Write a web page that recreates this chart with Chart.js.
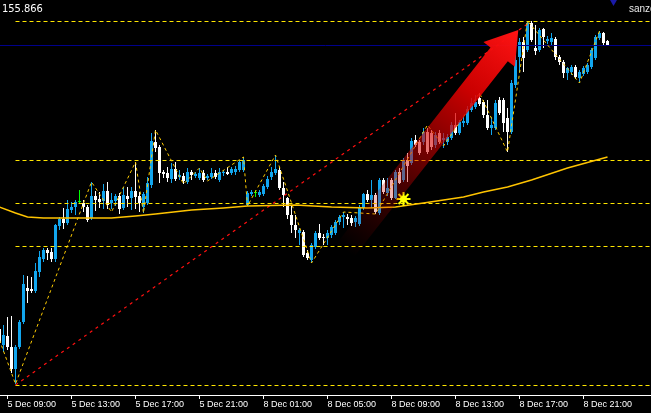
<!DOCTYPE html>
<html>
<head>
<meta charset="utf-8">
<script src="https://cdn.jsdelivr.net/npm/chart.js@4.4.1/dist/chart.umd.min.js"></script>
<style>
  html, body { margin: 0; padding: 0; background: #000; overflow: hidden; }
  #wrap { position: relative; width: 651px; height: 413px; overflow: hidden; background: #000; }
  canvas { display: block; }
  .lbl { position: absolute; white-space: nowrap; }
  #price { left: 2px; top: 3px; color: #fff; font: 11px/11px 'Liberation Sans Narrow', 'DejaVu Sans Condensed', sans-serif; }
  #name { left: 629px; top: 4px; color: #e8e8e8; font: 10px/10px 'Liberation Sans', Arial, sans-serif; }
</style>
</head>
<body>
<div id="wrap">
  <canvas id="chart" width="651" height="413"></canvas>
  <div class="lbl" id="price">155.866</div>
  <div class="lbl" id="name">sanzo</div>
</div>
<script>
// M15 bars, index 0 = 5 Dec 09:00 (weekend gap after index 59)
const firstIndex = -2;

const opens = [
  152.71,152.55,152.64,152.53,152.31,152.53,152.78,153.12,153.11,153.09,
  153.28,153.41,153.50,153.48,153.41,153.74,153.81,153.77,153.90,153.93,
  153.98,153.97,153.93,153.82,154.04,154.01,153.99,154.09,153.97,153.99,
  154.04,153.92,154.04,154.02,154.09,154.04,153.93,153.97,154.15,154.58,
  154.53,154.28,154.27,154.21,154.31,154.23,154.24,154.18,154.28,154.24,
  154.22,154.27,154.22,154.23,154.27,154.20,154.27,154.28,154.27,154.28,
  154.30,154.30,153.95,154.06,154.07,154.05,154.06,154.13,154.23,154.27,
  154.30,154.12,154.02,153.85,153.75,153.67,153.68,153.47,153.40,153.53,
  153.67,153.63,153.62,153.65,153.67,153.78,153.83,153.83,153.82,153.78,
  153.76,153.92,154.06,154.00,154.05,153.87,154.20,154.07,154.20,154.02,
  154.28,154.20,154.40,154.37,154.60,154.58,154.58,154.68,154.67,154.55,
  154.67,154.60,154.58,154.62,154.75,154.67,154.77,154.77,154.90,154.93,
  155.02,154.98,154.85,154.72,154.72,155.00,155.00,154.82,154.68,155.15,
  155.43,155.58,155.50,155.77,155.52,155.50,155.71,155.59,155.58,155.61,
  155.43,155.38,155.27,155.28,155.33,155.22,155.26,155.28,155.33,155.42,
  155.62,155.67,155.59
];
const closes = [
  152.57,152.65,152.53,152.31,152.53,152.78,153.16,153.09,153.09,153.29,
  153.43,153.50,153.47,153.41,153.75,153.81,153.77,153.91,153.93,153.98,
  153.98,153.93,153.80,154.04,154.00,153.98,154.09,153.95,154.00,154.04,
  153.91,154.05,154.01,154.09,154.03,153.97,154.06,154.17,154.59,154.52,
  154.27,154.26,154.22,154.31,154.21,154.25,154.19,154.28,154.25,154.26,
  154.27,154.20,154.24,154.27,154.23,154.28,154.28,154.26,154.31,154.31,
  154.38,154.40,154.07,154.08,154.07,154.08,154.14,154.21,154.28,154.31,
  154.12,154.05,153.85,153.75,153.70,153.70,153.45,153.42,153.55,153.67,
  153.62,153.62,153.67,153.73,153.78,153.83,153.85,153.81,153.77,153.82,
  153.93,154.06,154.00,154.05,153.88,154.20,154.08,154.12,154.02,154.28,
  154.17,154.40,154.34,154.59,154.55,154.47,154.68,154.48,154.53,154.65,
  154.58,154.62,154.63,154.75,154.67,154.78,154.79,154.91,154.97,154.98,
  154.96,154.85,154.72,154.75,154.97,154.87,154.77,154.68,155.17,155.40,
  155.58,155.42,155.77,155.60,155.49,155.70,155.63,155.61,155.62,155.43,
  155.38,155.27,155.32,155.33,155.23,155.28,155.32,155.35,155.50,155.63,
  155.67,155.57,155.55
];
const highs = [
  152.75,152.75,152.83,152.84,152.55,152.80,153.25,153.24,153.23,153.37,
  153.49,153.52,153.52,153.52,153.76,153.83,153.92,154.00,153.98,154.00,
  154.10,154.00,153.95,154.18,154.09,154.08,154.16,154.18,154.07,154.06,
  154.07,154.13,154.13,154.13,154.38,154.08,154.08,154.23,154.67,154.70,
  154.55,154.30,154.33,154.37,154.38,154.30,154.27,154.32,154.30,154.28,
  154.32,154.30,154.26,154.32,154.30,154.32,154.30,154.33,154.33,154.34,
  154.40,154.43,154.09,154.10,154.10,154.10,154.16,154.24,154.33,154.45,
  154.33,154.18,154.03,153.94,153.85,153.72,153.70,153.50,153.57,153.69,
  153.76,153.66,153.70,153.75,153.80,153.85,153.88,153.86,153.85,153.84,
  153.95,154.07,154.10,154.20,154.07,154.22,154.22,154.22,154.22,154.30,
  154.32,154.42,154.47,154.62,154.65,154.60,154.72,154.72,154.70,154.68,
  154.70,154.67,154.66,154.78,154.87,154.80,154.83,154.94,155.02,155.05,
  155.07,155.00,155.00,154.83,155.00,155.03,155.02,154.92,155.20,155.45,
  155.62,155.63,155.79,155.79,155.75,155.72,155.72,155.64,155.67,155.63,
  155.45,155.40,155.33,155.35,155.35,155.30,155.34,155.37,155.52,155.65,
  155.69,155.68,155.60
];
const lows = [
  152.50,152.48,152.50,152.27,152.16,152.51,152.76,152.97,153.07,153.07,
  153.23,153.38,153.40,153.38,153.38,153.70,153.71,153.75,153.87,153.85,
  153.97,153.88,153.78,153.80,153.89,153.92,153.91,153.91,153.91,153.94,
  153.86,153.90,153.93,153.90,153.91,153.88,153.87,153.95,154.12,154.48,
  154.17,154.22,154.18,154.17,154.19,154.20,154.16,154.16,154.20,154.22,
  154.20,154.18,154.20,154.21,154.21,154.18,154.24,154.25,154.25,154.25,
  154.28,154.28,153.94,154.04,154.03,154.03,154.04,154.11,154.20,154.25,
  154.10,153.93,153.81,153.67,153.62,153.55,153.43,153.40,153.37,153.51,
  153.60,153.55,153.55,153.62,153.65,153.75,153.72,153.75,153.74,153.73,
  153.74,153.90,153.98,153.92,153.86,153.85,154.06,154.04,154.00,154.01,
  154.16,154.18,154.18,154.35,154.53,154.45,154.55,154.46,154.50,154.52,
  154.56,154.52,154.55,154.60,154.65,154.65,154.73,154.75,154.88,154.91,
  154.94,154.82,154.70,154.65,154.70,154.85,154.68,154.48,154.66,155.12,
  155.28,155.28,155.48,155.58,155.45,155.48,155.52,155.56,155.55,155.40,
  155.35,155.22,155.20,155.25,155.21,155.17,155.24,155.26,155.31,155.40,
  155.60,155.55,155.54
];

const tickIdx = [0, 16, 32, 48, 64, 80, 96, 112, 128, 144];
const tickLabels = ['5 Dec 09:00', '5 Dec 13:00', '5 Dec 17:00', '5 Dec 21:00', '8 Dec 01:00',
                    '8 Dec 05:00', '8 Dec 09:00', '8 Dec 13:00', '8 Dec 17:00', '8 Dec 21:00'];

// horizontal levels (from the swing low), bid line
const levels = [155.785, 154.395, 153.965, 153.535, 152.145];
const bidPrice = 155.545;

// moving average
const maIdx  = [-2, 2, 5, 9, 26, 32, 37, 46, 54, 60, 72, 81, 90, 97, 104, 109, 114, 119, 125, 131, 140, 150];
const maVals = [153.93, 153.87, 153.83, 153.82, 153.82, 153.84, 153.86, 153.90, 153.92, 153.94, 153.95,
                153.93, 153.92, 153.93, 153.97, 154.00, 154.03, 154.08, 154.13, 154.20, 154.32, 154.43];

// zigzag swings
const zzIdx  = [-2, 2, 21, 26, 32, 34, 37, 44, 48, 50, 59, 60, 67, 76, 84, 92, 105, 109, 118, 125, 130, 143, 148];
const zzVals = [152.60, 152.16, 154.18, 153.88, 154.38, 153.87, 154.70, 154.16, 154.32, 154.19, 154.43, 153.94,
                154.45, 153.37, 153.88, 153.86, 154.75, 154.54, 155.07, 154.48, 155.79, 155.17, 155.69];

// red trend line
const trendIdx  = [2, 130];
const trendVals = [152.15, 155.76];

const starIdx = 99, starVal = 154.01;
const markIdx = 151.5, markVal = 155.99;
const arrowFrom = { x: 84.5, y: 153.50 };
const arrowTo   = { x: 127.7, y: 155.70 };

const BULL = '#12a6ee', BEAR = '#ffffff', DOJI = '#00ff00';
const colors = opens.map((o, i) => closes[i] > o ? BULL : (closes[i] < o ? BEAR : DOJI));

const bodies = opens.map((o, i) => ({ x: firstIndex + i, y: [o, closes[i]] }));
const wicks  = lows.map((l, i) => ({ x: firstIndex + i, y: [l, highs[i]] }));
const pts = (idx, vals) => idx.map((x, i) => ({ x: x, y: vals[i] }));

const levelSets = levels.map(v => ({
  type: 'line', data: [{ x: 2, y: v }, { x: 161, y: v }],
  borderColor: '#ffe600', borderWidth: 1, borderDash: [4, 3], pointRadius: 0, order: 3
}));

// big red arrow, drawn through the scales
const arrowPlugin = {
  id: 'arrow',
  afterDatasetsDraw(chart) {
    const xs = chart.scales.x, ys = chart.scales.y, ctx = chart.ctx;
    const x0 = xs.getPixelForValue(arrowFrom.x), y0 = ys.getPixelForValue(arrowFrom.y);
    const x1 = xs.getPixelForValue(arrowTo.x), y1 = ys.getPixelForValue(arrowTo.y);
    const dx = x1 - x0, dy = y1 - y0, len = Math.hypot(dx, dy);
    const ux = dx / len, uy = dy / len, nx = -uy, ny = ux;
    const headLen = 31, headHalf = 20, shaftHalf = 11;
    const bx = x1 - ux * headLen, by = y1 - uy * headLen;
    const g = ctx.createLinearGradient(x0, y0, x1, y1);
    g.addColorStop(0, 'rgba(190,0,0,0)');
    g.addColorStop(0.25, 'rgba(200,0,0,0.28)');
    g.addColorStop(0.5, 'rgba(215,0,0,0.6)');
    g.addColorStop(0.72, 'rgba(230,0,0,0.88)');
    g.addColorStop(1, 'rgba(255,20,20,1)');
    ctx.save();
    ctx.beginPath();
    ctx.moveTo(x0 + nx * shaftHalf, y0 + ny * shaftHalf);
    ctx.lineTo(bx + nx * shaftHalf, by + ny * shaftHalf);
    ctx.lineTo(bx + nx * headHalf, by + ny * headHalf);
    ctx.lineTo(x1, y1);
    ctx.lineTo(bx - nx * headHalf, by - ny * headHalf);
    ctx.lineTo(bx - nx * shaftHalf, by - ny * shaftHalf);
    ctx.lineTo(x0 - nx * shaftHalf, y0 - ny * shaftHalf);
    ctx.closePath();
    ctx.fillStyle = g;
    ctx.fill();
    ctx.restore();
  }
};

new Chart(document.getElementById('chart'), {
  type: 'bar',
  data: {
    datasets: [
      { type: 'line', data: [{ x: starIdx, y: starVal }], showLine: false, pointStyle: 'star',
        pointRadius: 7, pointBorderWidth: 2, pointBorderColor: '#ffff00', pointBackgroundColor: '#ffff00', order: 0 },
      { type: 'line', data: [{ x: starIdx, y: starVal }], showLine: false, pointStyle: 'circle',
        pointRadius: 3.5, pointBorderWidth: 0, pointBackgroundColor: '#ffff00', order: 0 },
      { type: 'line', data: [{ x: markIdx, y: markVal }], showLine: false, pointStyle: 'triangle', rotation: 180,
        pointRadius: 5, pointBorderWidth: 0, pointBackgroundColor: '#1a1aa8', clip: false, order: 0 },
      { type: 'line', data: pts(maIdx, maVals), borderColor: '#ffc400', borderWidth: 1.5,
        pointRadius: 0, tension: 0, order: 1 },
      { type: 'line', data: pts(zzIdx, zzVals), borderColor: '#ffcc00', borderWidth: 1,
        borderDash: [3, 3], pointRadius: 0, order: 2 },
      { type: 'line', data: pts(trendIdx, trendVals), borderColor: '#ff1010', borderWidth: 1.2,
        borderDash: [3, 4], pointRadius: 0, order: 2 },
      ...levelSets,
      { type: 'line', data: [{ x: -2, y: bidPrice }, { x: 161, y: bidPrice }], borderColor: '#00008b',
        borderWidth: 1, pointRadius: 0, order: 4 },
      { data: bodies, backgroundColor: colors, barThickness: 3, minBarLength: 1, grouped: false,
        borderWidth: 0, inflateAmount: 0, order: 5 },
      { data: wicks, backgroundColor: colors, barThickness: 1, grouped: false,
        borderWidth: 0, inflateAmount: 0, order: 6 }
    ]
  },
  options: {
    responsive: false,
    animation: false,
    devicePixelRatio: 1,
    events: [],
    layout: { autoPadding: false, padding: { top: 0, left: 0, right: 0, bottom: 3 } },
    plugins: { legend: { display: false }, tooltip: { enabled: false } },
    scales: {
      x: {
        type: 'linear', min: -1.875, max: 160.875, offset: false, bounds: 'data',
        afterBuildTicks: s => { s.ticks = tickIdx.map(v => ({ value: v })); },
        ticks: {
          autoSkip: false, maxRotation: 0, minRotation: 0, align: 'start', padding: 0, color: '#ffffff',
          font: { family: "'Liberation Sans', Arial, sans-serif", size: 9, lineHeight: '11px' },
          callback: v => { const k = tickIdx.indexOf(v); return k >= 0 ? tickLabels[k] : ''; }
        },
        grid: { offset: false, drawOnChartArea: false, drawTicks: true, tickLength: 4, color: '#ffffff' },
        border: { display: true, color: '#ffffff', width: 1 }
      },
      y: { display: false, min: 152.05, max: 156.0 }
    }
  },
  plugins: [arrowPlugin]
});
</script>
</body>
</html>
